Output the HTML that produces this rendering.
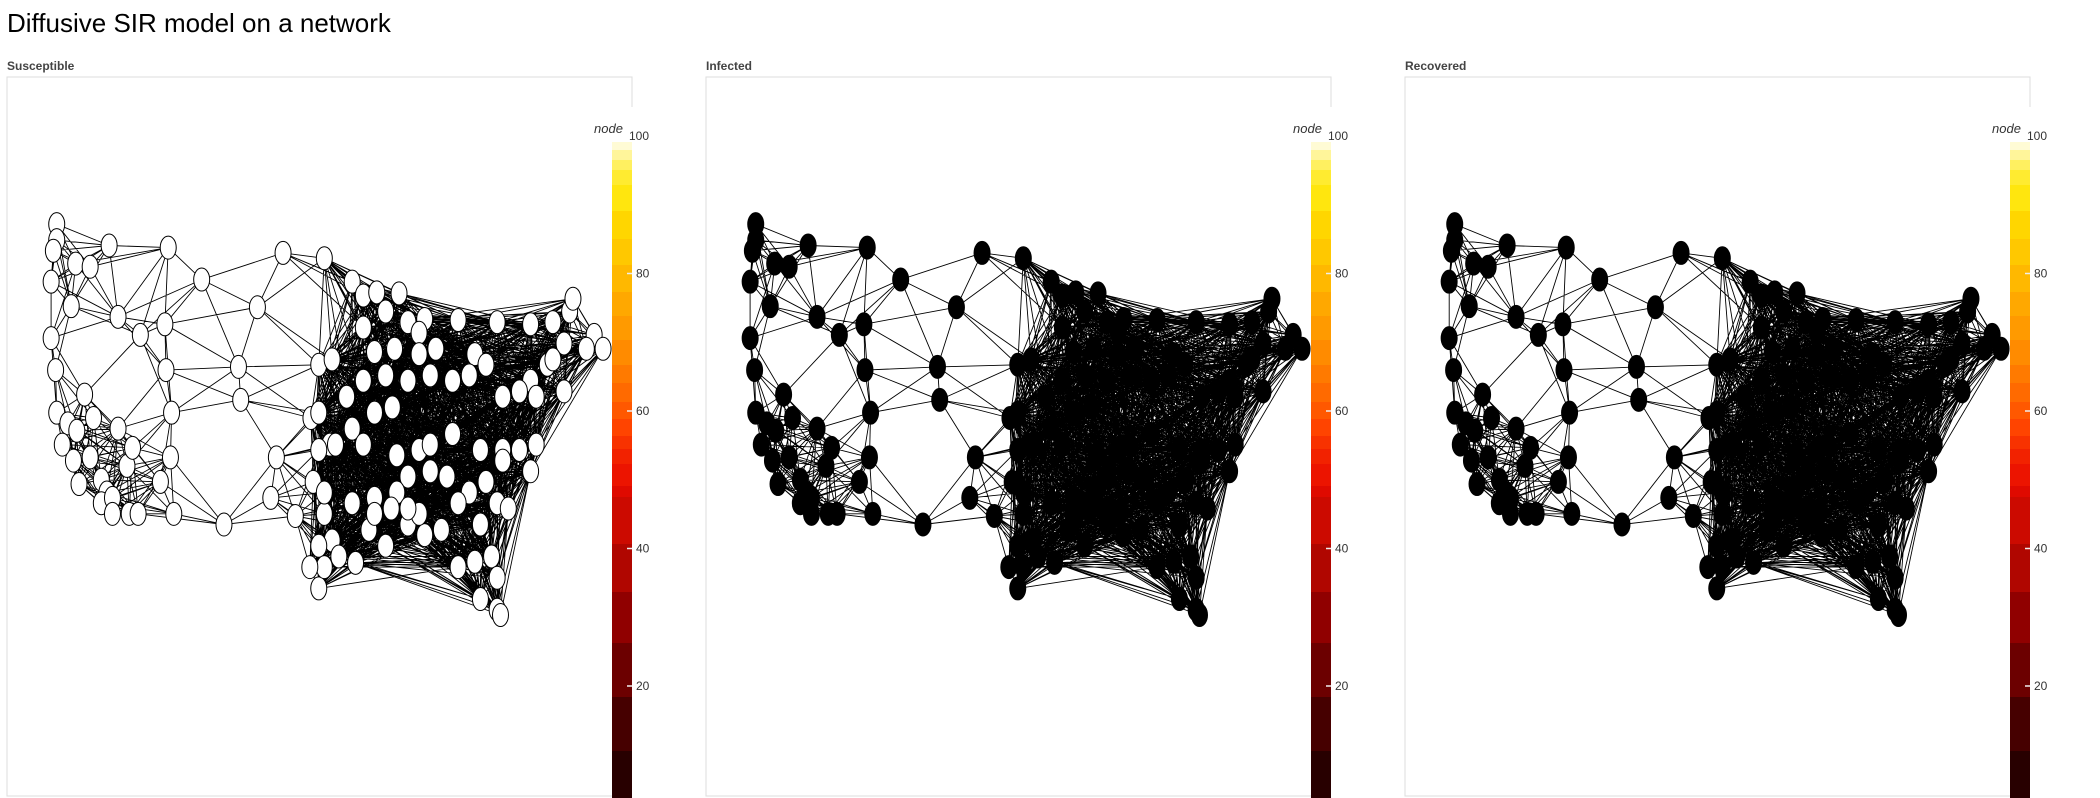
<!DOCTYPE html>
<html><head><meta charset="utf-8"><style>
body{margin:0;width:2100px;height:798px;background:#fff;overflow:hidden;font-family:"Liberation Sans",sans-serif;position:relative}
#title{position:absolute;left:7px;top:8px;font-size:26px;color:#000}
</style></head><body>
<div id="title">Diffusive SIR model on a network</div>
<svg id="svg" width="2100" height="798" style="position:absolute;left:0;top:0"></svg>
<script>
const panelTitles=["Susceptible","Infected","Recovered"];
const nodeFills=["#ffffff","#000000","#000000"];
const tickValues=[100,80,60,40,20];
const bandTops=[142,150,160,170,185,211,239,265,292,316,340,365,383,402,419,436,449,464,486,497,544,592,643,697,751];
const bandColors=["#fffbd5","#fff59a","#fff060","#ffeb30","#ffe60e","#ffd600","#ffc800","#ffb800","#ffa800","#ff9a00","#ff8b00","#ff7a00","#ff6a00","#ff5800","#ff4400","#f83200","#f22200","#ec1400","#df0a00","#cc0a00","#b00600","#900000","#6c0000","#460000","#280000"];
const nodeX=[15,15,12,32,45,62,10,28,10,14,40,15,25,33,30,45,35,55,60,55,65,65,80,88,78,83,70,70,90,112,115,145,113,118,108,120,117,178,180,165,212,218,255,195,207,229,250,243,262,250,
280,290,302,322,310,330,345,375,340,290,300,318,340,355,390,410,440,460,475,478,497,490,470,455,440,430,415,445,470,460,400,385,370,350,330,310,290,275,316,300,280,260,250,265,290,320,340,350,370,395,415,430,445,440,415,400,385,365,350,330,320,300,280,255,262,250,268,283,295,310,330,345,360,375,395,410,420,405,410,395,410,413,390,375,250,255,242,245,255,340,330,315,300,505,20,48];
const nodeY=[18,33,43,55,58,38,72,95,125,155,178,195,205,212,240,237,262,258,270,280,275,290,290,290,245,228,210,105,122,112,40,70,155,195,260,290,237,152,183,300,237,45,50,96,275,292,150,200,145,195,
72,85,82,83,100,110,107,108,120,115,138,135,140,135,140,110,112,110,100,88,122,135,130,150,165,175,180,180,175,145,150,160,165,160,165,160,165,180,190,195,210,225,230,225,225,235,230,225,215,230,230,230,225,250,240,260,270,255,250,255,270,275,280,290,315,320,330,336,305,320,300,310,305,280,300,280,285,330,350,370,380,385,335,340,360,340,340,260,270,290,285,285,290,135,225,200];
const svg=document.getElementById('svg');const NS='http://www.w3.org/2000/svg';
function mk(t,a){const e=document.createElementNS(NS,t);for(const k in a)e.setAttribute(k,a[k]);svg.appendChild(e);return e;}
const sx=m=>33+m*1.115, sy=m=>205+m*1.065;
const valY=v=>686-(v-20)*6.875;
const edges=[];const N=nodeX.length;const seen=new Set();
for(let i=0;i<N;i++){const d=[];for(let j=0;j<N;j++){if(i===j)continue;const dd=Math.hypot(nodeX[i]-nodeX[j],nodeY[i]-nodeY[j]);d.push([dd,j]);}
d.sort((a,b)=>a[0]-b[0]);
d.forEach((p,k)=>{const east=nodeX[i]>240&&nodeX[p[1]]>240;const R=east?140:70;if(k<7||p[0]<R){const key=Math.min(i,p[1])+'-'+Math.max(i,p[1]);if(!seen.has(key)){seen.add(key);edges.push([i,p[1]]);}}});}
panelTitles.forEach((t,p)=>{
 const off=7+p*699;
 const lab=mk('text',{x:off,y:70,'font-size':12,'font-weight':'bold',fill:'#444','font-family':'Liberation Sans, sans-serif'});lab.textContent=t;
 
 const box=mk('path',{d:`M${off+625},107 V77 H${off} V796 H${off+605}`,fill:'none',stroke:'#ddd','stroke-width':1});
 
 const g=document.createElementNS(NS,'g');svg.appendChild(g);
 
 let d='';edges.forEach(([a,b])=>{d+=`M${(off+sx(nodeX[a])).toFixed(1)},${sy(nodeY[a]).toFixed(1)}L${(off+sx(nodeX[b])).toFixed(1)},${sy(nodeY[b]).toFixed(1)}`;});
 const ep=document.createElementNS(NS,'path');ep.setAttribute('d',d);ep.setAttribute('stroke','#000');ep.setAttribute('stroke-width','0.9');ep.setAttribute('fill','none');g.appendChild(ep);
 
 for(let i=0;i<N;i++){const c=document.createElementNS(NS,'ellipse');c.setAttribute('cx',off+sx(nodeX[i]));c.setAttribute('cy',sy(nodeY[i]));c.setAttribute('rx',8);c.setAttribute('ry',11.5);c.setAttribute('fill',nodeFills[p]);c.setAttribute('stroke','#000');c.setAttribute('stroke-width','1');g.appendChild(c);
  }
 const cbx=off+605;
 bandTops.forEach((y0,k)=>{const y1=k+1<bandTops.length?bandTops[k+1]:798;const r=mk('rect',{x:cbx,y:y0,width:20,height:y1-y0+0.5,fill:bandColors[k]});
  });
 const nl=mk('text',{x:cbx-18,y:133,'font-size':13,'font-style':'italic',fill:'#333','font-family':'Liberation Sans, sans-serif'});nl.textContent='node';
 
 tickValues.forEach(v=>{const y=valY(v);if(v<100){const tk=mk('line',{x1:cbx+15,x2:cbx+20,y1:y,y2:y,stroke:'#eee','stroke-width':1.5});}
  const tl=mk('text',{x:cbx+(v===100?17:24),y:y+4,'font-size':12,fill:'#333','font-family':'Liberation Sans, sans-serif'});tl.textContent=v;
  });
});
</script>
</body></html>
